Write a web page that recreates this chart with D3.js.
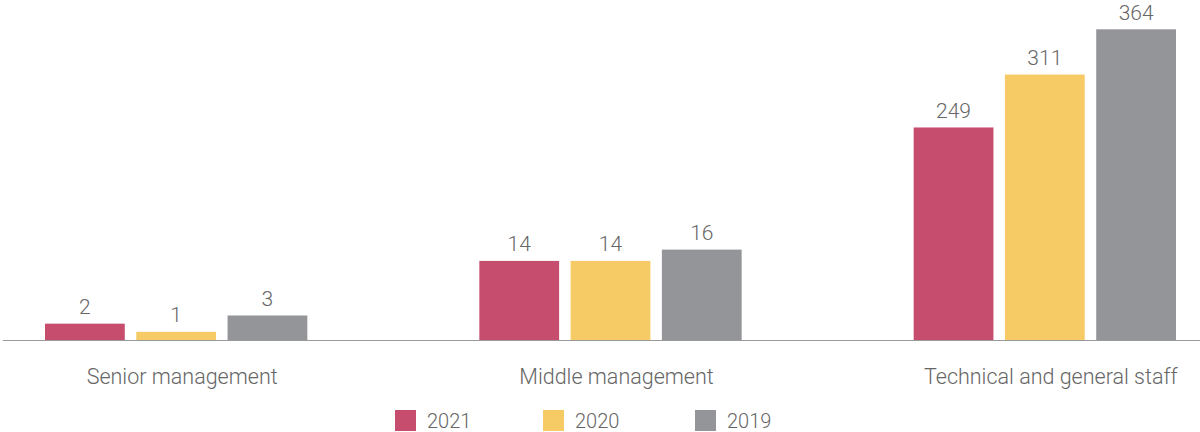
<!DOCTYPE html>
<html>
<head>
<meta charset="utf-8">
<script src="https://cdn.jsdelivr.net/npm/d3@7"></script>
<style>
  html, body { margin: 0; padding: 0; background: #fff; }
  svg { display: block; font-family: Roboto, "Liberation Sans", sans-serif; }
</style>
</head>
<body>
<svg id="chart" width="1200" height="432"></svg>
<script>
// Headcount by staff category and year
const categories = ["Senior management", "Middle management", "Technical and general staff"];
const years = ["2021", "2020", "2019"];
const values2021 = [2, 14, 249];
const values2020 = [1, 14, 311];
const values2019 = [3, 16, 364];
const seriesValues = [values2021, values2020, values2019];

// Each category group is drawn on its own value scale (top of plot = this value)
const groupScaleMax = [38, 55, 364];

const colors = ["#c74d6e", "#f6cb66", "#949599"];

const W = 1200, H = 432;
const baseY = 340, topY = 29.3;
const svg = d3.select("#chart");

const x0 = d3.scaleBand().domain(categories).range([45, 1176]).paddingInner(0.396).paddingOuter(0);
const x1 = d3.scaleBand().domain(years).range([0, x0.bandwidth()]).paddingInner(0.126).paddingOuter(0);
const yScales = groupScaleMax.map(m => d3.scaleLinear().domain([0, m]).range([baseY, topY]));
const color = d3.scaleOrdinal().domain(years).range(colors);

const rows = categories.map((c, i) => ({
  cat: c, idx: i,
  bars: years.map((yr, j) => ({ year: yr, value: seriesValues[j][i] }))
}));

const groups = svg.selectAll("g.grp").data(rows).join("g")
  .attr("class", "grp")
  .attr("transform", d => `translate(${x0(d.cat)},0)`);

groups.selectAll("rect").data(d => d.bars.map(b => ({ ...b, idx: d.idx }))).join("rect")
  .attr("x", d => x1(d.year))
  .attr("width", x1.bandwidth())
  .attr("y", d => yScales[d.idx](d.value))
  .attr("height", d => baseY - yScales[d.idx](d.value))
  .attr("fill", d => color(d.year));

groups.selectAll("text.val").data(d => d.bars.map(b => ({ ...b, idx: d.idx }))).join("text")
  .attr("class", "val")
  .attr("x", d => x1(d.year) + x1.bandwidth() / 2)
  .attr("y", d => yScales[d.idx](d.value) - 9.5)
  .attr("text-anchor", "middle")
  .attr("font-size", 21)
  .attr("font-weight", 300)
  .attr("fill", "#666")
  .text(d => d.value);

// baseline
svg.append("line")
  .attr("x1", 3).attr("x2", W)
  .attr("y1", baseY + 0.5).attr("y2", baseY + 0.5)
  .attr("stroke", "#999").attr("stroke-width", 1);

// category axis
const xAxis = d3.axisBottom(x0).tickSize(0).tickPadding(0);
const axisG = svg.append("g").attr("transform", `translate(6,${baseY})`).call(xAxis);
axisG.select(".domain").remove();
axisG.selectAll("text")
  .attr("dy", null)
  .attr("y", 44)
  .attr("font-size", 21.5)
  .attr("font-weight", 300)
  .attr("font-family", "Roboto, 'Liberation Sans', sans-serif")
  .attr("fill", "#666");

// legend
const legendX = [395, 543, 695];
const legend = svg.selectAll("g.leg").data(years).join("g")
  .attr("class", "leg")
  .attr("transform", (d, i) => `translate(${legendX[i]},410)`);
legend.append("rect").attr("width", 21).attr("height", 21).attr("fill", d => color(d));
legend.append("text")
  .attr("x", 32).attr("y", 18)
  .attr("font-size", 20)
  .attr("font-weight", 300)
  .attr("fill", "#666")
  .text(d => d);
</script>
</body>
</html>
